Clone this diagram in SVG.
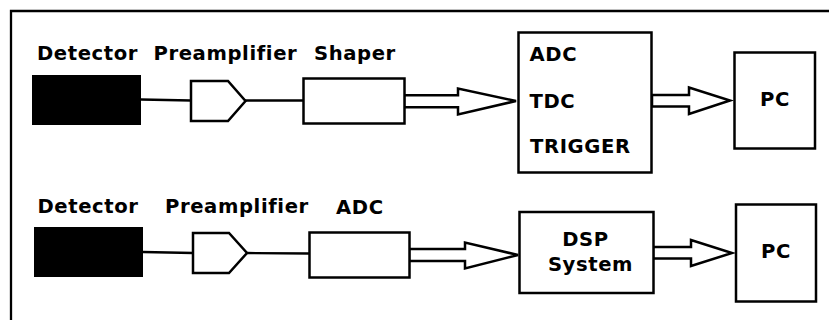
<svg xmlns="http://www.w3.org/2000/svg" width="829" height="320" viewBox="0 0 829 320">
<style>
.lbl{font-family:"DejaVu Sans","Liberation Sans",sans-serif;font-weight:bold;font-size:19.6px;letter-spacing:0.6px;fill:#000}
.box{fill:#fff;stroke:#000;stroke-width:2.5}
.det{fill:#000;stroke:none}
.wire{fill:none;stroke:#000;stroke-width:2.3}
.arr{fill:#fff;stroke:#000;stroke-width:2.5;stroke-linejoin:miter}
.frame{fill:none;stroke:#000;stroke-width:2.3}
</style>
<rect width="829" height="320" fill="#fff"/>
<path class="frame" d="M11,330 V11 H840"/>

<g id="connectors">
<path class="wire" d="M141,99.5 L191,100.5"/>
<path class="wire" d="M245,100.5 H303"/>
<path class="wire" d="M143,252 L193,253"/>
<path class="wire" d="M247,253 L309,253.5"/>
<polygon class="arr" points="404,95.3 458,95.3 458,88.5 516,101 458,114.5 458,107.3 404,107.3"/>
<polygon class="arr" points="652,95 689,95 689,87.5 730,100.5 689,114 689,106.5 652,106.5"/>
<polygon class="arr" points="409,249 465,249 465,242.5 518,255 465,268.5 465,261 409,261"/>
<polygon class="arr" points="653,247 691,247 691,240 732,253 691,266 691,258.5 653,258.5"/>
</g>

<g id="detector1">
<rect class="det" x="32" y="75" width="109" height="50"/>
<text class="lbl" x="37" y="60">Detector</text>
</g>
<g id="preamp1">
<polygon class="box" points="191,81 228,81 245.5,101 228,121 191,121"/>
<text class="lbl" x="153.5" y="60">Preamplifier</text>
</g>
<g id="shaper">
<rect class="box" x="303.5" y="78.5" width="101" height="45"/>
<text class="lbl" x="314" y="60">Shaper</text>
</g>
<g id="adc-tdc-trigger">
<rect class="box" x="518.5" y="32.5" width="133" height="140"/>
<text class="lbl" x="529.5" y="60.5">ADC</text>
<text class="lbl" x="529.5" y="108">TDC</text>
<text class="lbl" x="530" y="153">TRIGGER</text>
</g>
<g id="pc1">
<rect class="box" x="734.5" y="52.5" width="80.5" height="96"/>
<text class="lbl" x="760" y="106">PC</text>
</g>

<g id="detector2">
<rect class="det" x="34" y="227" width="109" height="50"/>
<text class="lbl" x="37.5" y="213">Detector</text>
</g>
<g id="preamp2">
<polygon class="box" points="193,233 229,233 247,253 229,273 193,273"/>
<text class="lbl" x="165" y="213">Preamplifier</text>
</g>
<g id="adc2">
<rect class="box" x="309.5" y="232.5" width="100" height="45"/>
<text class="lbl" x="336" y="214">ADC</text>
</g>
<g id="dsp">
<rect class="box" x="519.5" y="212" width="134" height="81"/>
<text class="lbl" x="585.5" y="246" text-anchor="middle">DSP</text>
<text class="lbl" x="590.5" y="271" text-anchor="middle">System</text>
</g>
<g id="pc2">
<rect class="box" x="736" y="204.5" width="80" height="97"/>
<text class="lbl" x="761" y="258">PC</text>
</g>
</svg>
